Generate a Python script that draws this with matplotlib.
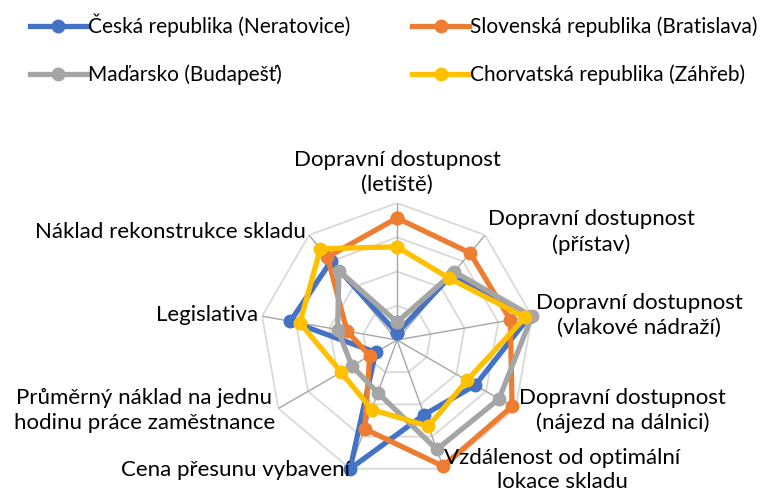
import numpy as np
import matplotlib
matplotlib.use("Agg")
import matplotlib.pyplot as plt

plt.rcParams['font.family'] = ['Lato', 'DejaVu Sans']

# radar axes (clockwise from the top)
categories = [
    "Dopravní dostupnost\n(letiště)",
    "Dopravní dostupnost\n(přístav)",
    "Dopravní dostupnost\n(vlakové nádraží)",
    "Dopravní dostupnost\n(nájezd na dálnici)",
    "Vzdálenost od optimální\nlokace skladu",
    "Cena přesunu vybavení",
    "Průměrný náklad na jednu\nhodinu práce zaměstnance",
    "Legislativa",
    "Náklad rekonstrukce skladu",
]

# values (share of the outer ring)
cz_vals = [0.05, 0.62, 0.98, 0.66, 0.58, 1.00, 0.18, 0.79, 0.75]
sk_vals = [0.89, 0.83, 0.84, 0.97, 0.98, 0.69, 0.23, 0.37, 0.79]
hu_vals = [0.13, 0.65, 1.00, 0.86, 0.85, 0.41, 0.38, 0.44, 0.66]
hr_vals = [0.68, 0.59, 0.95, 0.59, 0.67, 0.54, 0.47, 0.72, 0.87]

series_names = [
    "Česká republika (Neratovice)",
    "Slovenská republika (Bratislava)",
    "Maďarsko (Budapešť)",
    "Chorvatská republika (Záhřeb)",
]
series_vals = [cz_vals, sk_vals, hu_vals, hr_vals]
colors = ["#4472C4", "#ED7D31", "#A5A5A5", "#FFC000"]

ring_levels = [0.25, 0.5, 0.75, 1.0]

n = len(categories)
angles = np.arange(n) * 2 * np.pi / n
closed = np.append(angles, angles[0])

fig = plt.figure(figsize=(7.72, 5.0), dpi=100)
ax = fig.add_axes([0.3368, 0.046, 0.3549, 0.548], projection="polar")
ax.set_theta_zero_location("N")
ax.set_theta_direction(-1)
ax.set_ylim(0, 1)
ax.grid(False)
ax.spines["polar"].set_visible(False)
ax.set_xticks([])
ax.set_yticks([])
ax.patch.set_alpha(0)

# polygon rings and spokes
for lev in ring_levels:
    ax.plot(closed, [lev] * (n + 1), color="#D9D9D9", lw=1.3, zorder=1)
for a in angles:
    ax.plot([a, a], [0, 1], color="#A6A6A6", lw=1.0, zorder=1)

handles = []
for name, vals, col in zip(series_names, series_vals, colors):
    h, = ax.plot(closed, vals + vals[:1], color=col, lw=3.8, marker="o",
                 ms=9, label=name, zorder=3, clip_on=False)
    handles.append(h)

# category labels
fs = 16
label_pos = [
    (1.06, "center", "bottom"),
    (1.03, "left", "center"),
    (1.03, "left", "center"),
    (1.03, "left", "center"),
    (1.01, "left", "center"),
    (1.01, "right", "center"),
    (1.03, "right", "center"),
    (1.03, "right", "center"),
    (1.03, "right", "center"),
]
for a, lab, (r, ha, va) in zip(angles, categories, label_pos):
    ax.text(a, r, lab, ha=ha, va=va, fontsize=fs, multialignment="center",
            linespacing=1.3, clip_on=False)

order = [0, 2, 1, 3]
fig.legend([handles[i] for i in order], [series_names[i] for i in order],
           loc="upper left", bbox_to_anchor=(0.015, 1.01), ncol=2, frameon=False,
           fontsize=15, handlelength=2.7, handletextpad=0.05, columnspacing=3.0,
           labelspacing=1.3)

fig.savefig("out.png", dpi=100)
